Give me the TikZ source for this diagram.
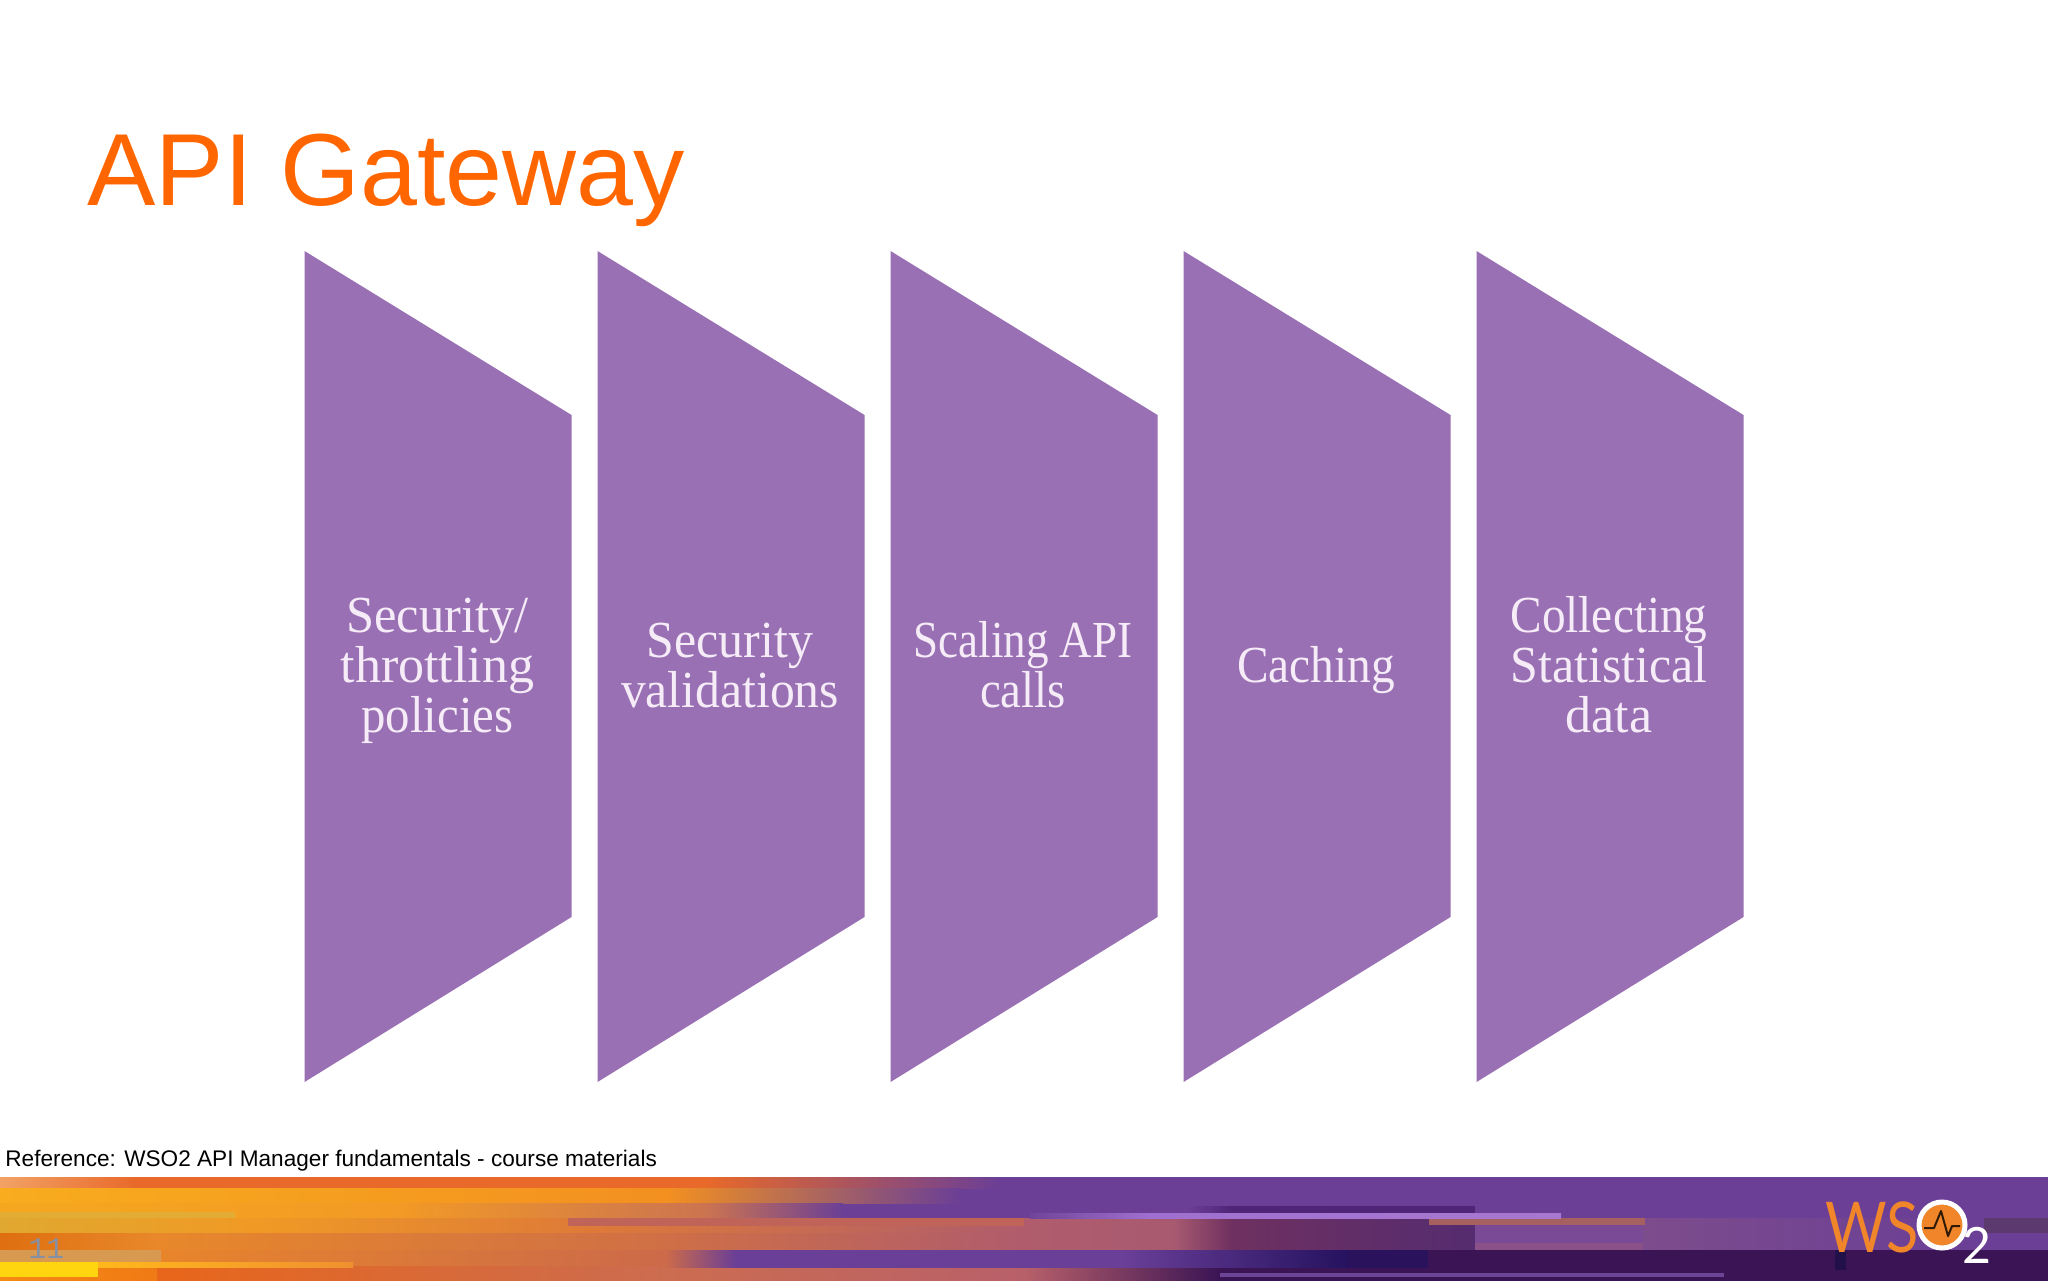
\documentclass[tikz,border=0pt]{standalone}
\usepackage{graphicx}
\usepackage{fontspec}
\setmainfont{Liberation Sans}
\newfontfamily\labelfont{Liberation Serif}
\newfontfamily\monofont{Liberation Mono}
\newfontfamily\logofont{Lato}
\definecolor{titleorange}{HTML}{FF6600}
\definecolor{panelpurple}{HTML}{9970B3}
\definecolor{labelwhite}{HTML}{F6ECF8}
\definecolor{barpurple}{HTML}{6B3F96}
\definecolor{logoorange}{HTML}{F0852A}
\definecolor{numcolor}{HTML}{8590A5}
\newcommand{\grad}[6]{\definecolor{gradA}{HTML}{#5}\definecolor{gradB}{HTML}{#6}\shade[left color=gradA,right color=gradB] (#1,#2) rectangle (#3,#4);}
\newcommand{\band}[5]{\definecolor{gradA}{HTML}{#5}\fill[gradA] (#1,#2) rectangle (#3,#4);}
\newcommand{\lbl}[2]{\rule[-7.5pt]{0pt}{25pt}\smash{\scalebox{#1}[1]{#2}}}
\tikzset{
  panel/.style={fill=panelpurple},
  panellabel/.style={font=\labelfont\fontsize{26}{25}\selectfont,text=labelwhite,align=center,inner sep=0pt},
}
\begin{document}
\begin{tikzpicture}[x=0.5pt,y=-0.5pt]
\useasboundingbox (0,0) rectangle (2048,1280);
\fill[white] (0,0) rectangle (2048,1280);
\node[anchor=base west,inner sep=0pt,text=titleorange,font=\fontsize{51.2}{51}\selectfont] (title) at (87,205) {API Gateway};
% panels
\foreach \n/\x in {1/304.5,2/597.5,3/890.5,4/1183.5,5/1476.5}{
  \fill[panel] (\x,251) -- (\x+267,415) -- (\x+267,917) -- (\x,1082) -- cycle;
}
\node[panellabel] (l1) at (437.5,672) {\lbl{.97}{Security/}\\\lbl{1}{throttling}\\\lbl{.94}{policies}};
\node[panellabel] (l2) at (730,672) {\lbl{.96}{Security}\\\lbl{.955}{validations}};
\node[panellabel] (l3) at (1023,672) {\lbl{.866}{Scaling API}\\\lbl{.9}{calls}};
\node[panellabel] (l4) at (1316,672) {\lbl{.91}{Caching}};
\node[panellabel] (l5) at (1609,672) {\lbl{.91}{Collecting}\\\lbl{.96}{Statistical}\\\lbl{1}{data}};
\node[anchor=base west,inner sep=0pt,font=\fontsize{11.3}{12}\selectfont] (ref) at (5,1166) {Reference: WSO2 API Manager fundamentals - course materials};
% footer band
\fill[barpurple] (0,1177) rectangle (2050,1282);
% left rows
\grad{0}{1177}{137}{1188}{F2A266}{E8692A}
\band{137}{1177}{706}{1188}{E8692A}
\grad{706}{1177}{1000}{1188}{E8692A}{6B3F96}
\grad{0}{1188}{666}{1203}{F8AC1E}{F39020}
\grad{666}{1188}{960}{1203}{F39020}{6B3F96}
\grad{0}{1203}{392}{1218}{F5A81F}{F39A25}
\grad{392}{1203}{706}{1218}{F39A25}{CC7450}
\grad{706}{1203}{843}{1218}{CC7450}{6B3F96}
\grad{0}{1218}{255}{1233}{E0A830}{F09A25}
\grad{255}{1218}{588}{1233}{F09A25}{DE7A38}
\grad{588}{1218}{1024}{1233}{DE7A38}{B05C6C}
\band{0}{1212}{235}{1218}{E3AC34}
\band{568}{1218}{1024}{1226}{C0645A}
\grad{0}{1233}{157}{1250}{DF6F10}{E8882A}
\grad{157}{1233}{647}{1250}{E8882A}{D07045}
\grad{647}{1233}{1024}{1250}{D07045}{B05C6C}
\grad{157}{1250}{666}{1268}{E8852B}{CC6A4A}
\band{0}{1250}{161}{1262}{D89A50}
\grad{666}{1250}{735}{1268}{CC6A4A}{6B3F96}
\band{735}{1250}{1024}{1268}{6A3F98}
\grad{0}{1262}{157}{1282}{F58A12}{F07A15}
\grad{157}{1266}{666}{1282}{E8661A}{CC6C50}
\grad{666}{1268}{1024}{1282}{CC6C50}{B8606A}
\grad{98}{1262}{353}{1267}{FFB81C}{F09030}
\band{0}{1262}{98}{1277}{FFD510}
% right rows
\grad{1024}{1218}{1173}{1250}{B05C6C}{A85A70}
\grad{1173}{1218}{1232}{1250}{A85A70}{6E3060}
\grad{1232}{1218}{1475}{1250}{6E3060}{552C70}
\band{1475}{1218}{1643}{1250}{7A4A96}
\band{1475}{1243}{1643}{1250}{8A5088}
\grad{1643}{1218}{1957}{1250}{7D4C8C}{6B3F96}
\band{1429}{1218}{1645}{1225}{A5605F}
\grad{1187}{1206}{1232}{1213}{6B3F96}{4F2578}
\band{1232}{1206}{1475}{1213}{4F2578}
\grad{1030}{1213}{1150}{1218}{6F4499}{A070D0}
\grad{1150}{1213}{1561}{1218}{A070D0}{A878D0}
\band{1024}{1250}{1122}{1268}{6A3F98}
\grad{1122}{1250}{1349}{1268}{6A3F98}{25125F}
\band{1349}{1250}{1428}{1268}{2A125C}
\band{1428}{1250}{2050}{1282}{3A1455}
\grad{1024}{1268}{1220}{1282}{B8606A}{3A1455}
\band{1220}{1268}{2050}{1282}{3A1455}
\band{1220}{1273}{1724}{1277}{6D4596}
\band{1835}{1250}{1846}{1270}{22104A}
\band{1984}{1218}{2050}{1233}{5C3A70}
% slide number
\node[anchor=base west,inner sep=0pt,text=numcolor,font=\monofont\fontsize{15}{15}\selectfont] (num) at (28,1258) {11};
% logo
\node[anchor=base west,inner sep=0pt,text=logoorange,font=\logofont\fontsize{35}{35}\selectfont,xscale=.85] (ws) at (1825,1252) {WS};
\node[circle,fill=logoorange,draw=white,line width=2.5pt,minimum size=23pt,inner sep=0pt] (o) at (1942,1225) {};
\draw[black!80!logoorange,line width=1pt,line join=round] (1924,1228) -- (1934,1228) -- (1941,1211) -- (1948,1236) -- (1952,1226) -- (1960,1226);
\node[anchor=base west,inner sep=0pt,text=white,font=\logofont\fontsize{25}{25}\selectfont] (two) at (1962,1263) {2};
\end{tikzpicture}
\end{document}
